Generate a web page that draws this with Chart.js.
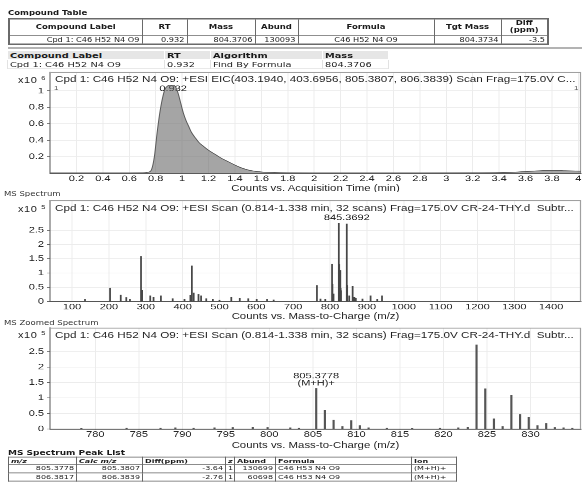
<!DOCTYPE html>
<html>
<head>
<meta charset="utf-8">
<title>Compound report</title>
<script src="https://cdn.jsdelivr.net/npm/chart.js@4.4.1/dist/chart.umd.min.js"></script>
<style>
  html, body { margin: 0; padding: 0; background: #fff; overflow: hidden; }
  /* the report is laid out at 4/3 height and squashed, like the scanned page */
  #page {
    position: absolute; left: 0; top: 0;
    width: 582px; height: 643px;
    transform: scaleY(0.75); transform-origin: 0 0;
    font-family: "DejaVu Sans", sans-serif; color: #1a1a1a; overflow: hidden;
  }
  .t { position: absolute; white-space: nowrap; line-height: 1; z-index: 2; }
  .head { left: 8px; font-weight: bold; font-size: 8.5px; }
  .section { left: 4px; font-size: 8.5px; color: #333; }
  .chart-title { left: 55px; font: 11.7px "Liberation Sans", sans-serif; color: #1e1e1e; }
  .axis-title { left: 50px; width: 531px; text-align: center; font: 11.4px "Liberation Sans", sans-serif; color: #1e1e1e; }
  .ylab { left: 4px; width: 42px; text-align: right; font: 11px "Liberation Sans", sans-serif; letter-spacing: 0.6px; color: #1e1e1e; }
  .ylab sup { font-size: 7.5px; vertical-align: 3px; }
  .mark { font: 8px "Liberation Sans", sans-serif; color: #555; }
  canvas { position: absolute; left: 0; z-index: 1; }
  .rule { position: absolute; left: 8px; width: 574px; top: 62.5px; height: 2.5px; background: #9a9a9a; }
  table { position: absolute; border-collapse: collapse; table-layout: fixed; z-index: 2; }
  th, td { padding: 0 2px; white-space: nowrap; overflow: hidden; }

  #cpdTable { left: 8px; top: 24px; width: 539px; border: 2px solid #6a6a6a; font-size: 8.2px; }
  #cpdTable th { height: 20.5px; font-size: 8.5px; line-height: 9.8px; border: 1.5px solid #6a6a6a; text-align: center; }
  #cpdTable td { height: 10px; line-height: 10px; border: 1.5px solid #6a6a6a; text-align: right; }
  #cpdTable td.c { text-align: center; }

  #algTable { left: 7px; top: 67px; width: 381px; font-size: 9.8px; }
  #algTable th { height: 11px; line-height: 11px; background: #e6e6e6; border: 1px solid #fff; text-align: left; }
  #algTable td { height: 11px; line-height: 11px; border: 1px solid #e2e2e2; text-align: left; }

  #peakTable { left: 8px; top: 609.3px; width: 448px; font-size: 8px; border: 1.5px solid #555; }
  #peakTable th { height: 9px; line-height: 9px; border: 1px solid #666; text-align: left; }
  #peakTable th i { font-style: italic; }
  #peakTable td { height: 10px; line-height: 10px; border: 1px solid #666; text-align: right; }
  #peakTable td.l { text-align: left; }
  #peakTable td.c { text-align: center; }
</style>
</head>
<body>
<div id="page">
  <div class="t head" style="top:12.5px">Compound Table</div>
  <table id="cpdTable">
    <colgroup><col style="width:133px"><col style="width:45px"><col style="width:68px"><col style="width:43px"><col style="width:136px"><col style="width:67px"><col style="width:47px"></colgroup>
    <tr><th>Compound Label</th><th>RT</th><th>Mass</th><th>Abund</th><th>Formula</th><th>Tgt Mass</th><th>Diff<br>(ppm)</th></tr>
    <tr><td>Cpd 1: C46 H52 N4 O9</td><td>0.932</td><td>804.3706</td><td>130093</td><td class="c">C46 H52 N4 O9</td><td>804.3734</td><td>-3.5</td></tr>
  </table>
  <div class="rule"></div>
  <table id="algTable">
    <colgroup><col style="width:157px"><col style="width:46px"><col style="width:112px"><col style="width:66px"></colgroup>
    <tr><th>Compound Label</th><th>RT</th><th>Algorithm</th><th>Mass</th></tr>
    <tr><td>Cpd 1: C46 H52 N4 O9</td><td>0.932</td><td>Find By Formula</td><td>804.3706</td></tr>
  </table>

  <canvas id="eic" width="582" height="173" style="top:88px"></canvas>
  <div class="t chart-title" style="top:98px">Cpd 1: C46 H52 N4 O9: +ESI EIC(403.1940, 403.6956, 805.3807, 806.3839) Scan Frag=175.0V C...</div>
  <div class="t ylab" style="top:99.5px">x10 <sup>6</sup></div>
  <div class="t mark" style="left:54px;top:113px">1</div>
  <div class="t mark" style="left:574px;top:113px">1</div>
  <div class="t axis-title" style="top:243.5px">Counts vs. Acquisition Time (min)</div>

  <div class="t section" style="top:253.5px">MS Spectrum</div>
  <canvas id="ms" width="582" height="173" style="top:258.7px"></canvas>
  <div class="t chart-title" style="top:270px">Cpd 1: C46 H52 N4 O9: +ESI Scan (0.814-1.338 min, 32 scans) Frag=175.0V CR-24-THY.d&nbsp; Subtr...</div>
  <div class="t ylab" style="top:271.5px">x10 <sup>5</sup></div>
  <div class="t axis-title" style="top:414.5px">Counts vs. Mass-to-Charge (m/z)</div>

  <div class="t section" style="top:425.5px">MS Zoomed Spectrum</div>
  <canvas id="zoom" width="582" height="173" style="top:429.3px"></canvas>
  <div class="t chart-title" style="top:439.5px">Cpd 1: C46 H52 N4 O9: +ESI Scan (0.814-1.338 min, 32 scans) Frag=175.0V CR-24-THY.d&nbsp; Subtr...</div>
  <div class="t ylab" style="top:440px">x10 <sup>5</sup></div>
  <div class="t axis-title" style="top:586.5px">Counts vs. Mass-to-Charge (m/z)</div>

  <div class="t head" style="top:598.5px;font-size:9px">MS Spectrum Peak List</div>
  <table id="peakTable">
    <colgroup><col style="width:68px"><col style="width:66px"><col style="width:83px"><col style="width:9px"><col style="width:41px"><col style="width:136px"><col style="width:45px"></colgroup>
    <tr><th><i>m/z</i></th><th><i>Calc m/z</i></th><th>Diff(ppm)</th><th><i>z</i></th><th>Abund</th><th>Formula</th><th>Ion</th></tr>
    <tr><td>805.3778</td><td>805.3807</td><td>-3.64</td><td class="c">1</td><td>130699</td><td class="l">C46 H53 N4 O9</td><td class="l">(M+H)+</td></tr>
    <tr><td>806.3817</td><td>806.3839</td><td>-2.76</td><td class="c">1</td><td>60698</td><td class="l">C46 H53 N4 O9</td><td class="l">(M+H)+</td></tr>
  </table>
</div>

<script>
// EIC trace, counts in units of 10^6
const eicTime = [0, 0.2, 0.4, 0.6, 0.7, 0.75, 0.77, 0.79, 0.81, 0.83, 0.85, 0.87, 0.89, 0.91, 0.93, 0.95, 0.97, 0.99, 1.01, 1.03,
                 1.05, 1.07, 1.1, 1.13, 1.16, 1.2, 1.25, 1.3, 1.35, 1.4, 1.45, 1.5, 1.55, 1.6, 1.7, 1.8, 2, 2.4, 2.8, 3.2,
                 3.4, 3.5, 3.6, 3.7, 3.8, 3.9, 4.02];
const eicCounts = [0.004, 0.004, 0.004, 0.005, 0.006, 0.015, 0.05, 0.2, 0.48, 0.72, 0.9, 1.02, 1.06, 1.07, 1.07, 1.05, 0.97, 0.85, 0.73, 0.64,
                   0.57, 0.5, 0.43, 0.37, 0.33, 0.28, 0.23, 0.18, 0.14, 0.1, 0.065, 0.04, 0.025, 0.016, 0.009, 0.006, 0.005, 0.005, 0.005, 0.006,
                   0.008, 0.012, 0.022, 0.03, 0.034, 0.031, 0.026];
const eicXTicks = [0.2, 0.4, 0.6, 0.8, 1, 1.2, 1.4, 1.6, 1.8, 2, 2.2, 2.4, 2.6, 2.8, 3, 3.2, 3.4, 3.6, 3.8, 4];
const eicYTicks = [0.2, 0.4, 0.6, 0.8, 1];

// full MS spectrum, abundance in units of 10^5
const msMz = [135, 203, 232, 247, 257, 287, 290, 312, 321, 341, 373, 405, 421, 425, 430, 443, 450, 464, 482, 500,
              532, 555, 578, 601, 629, 647, 764.4, 774, 787, 805.4, 806.4, 809.4, 823.8, 824.8, 827.8, 828.8, 829.8, 845.4, 846.4, 852,
              861.3, 866, 870, 888, 910, 928, 941];
const msAbund = [0.07, 0.47, 0.23, 0.14, 0.07, 1.58, 0.39, 0.2, 0.15, 0.2, 0.1, 0.07, 0.22, 1.25, 0.3, 0.25, 0.2, 0.1, 0.07, 0.05,
                 0.15, 0.12, 0.1, 0.07, 0.07, 0.06, 0.56, 0.09, 0.07, 1.31, 0.61, 0.27, 2.75, 1.3, 1.09, 0.47, 0.38, 2.72, 0.56, 0.2,
                 0.54, 0.15, 0.12, 0.09, 0.2, 0.07, 0.2];
const msXTicks = [100, 200, 300, 400, 500, 600, 700, 800, 900, 1000, 1100, 1200, 1300, 1400];

// zoomed MS spectrum, abundance in units of 10^5
const zoomMz = [778.4, 783.6, 787.5, 789.2, 791.3, 793.7, 795.8, 798.1, 799.8, 802.4, 803.4, 805.38, 806.38, 807.38, 808.39, 809.4, 810.4, 811.4,
                813.5, 816.4, 819.6, 821.7, 822.8, 823.8, 824.8, 825.8, 826.8, 827.8, 828.8, 829.8, 830.8, 831.8, 832.8, 833.8, 834.8];
const zoomAbund = [0.02, 0.03, 0.03, 0.04, 0.03, 0.04, 0.05, 0.06, 0.05, 0.04, 0.03, 1.31, 0.61, 0.29, 0.08, 0.27, 0.11, 0.04,
                   0.03, 0.02, 0.03, 0.04, 0.06, 2.72, 1.3, 0.33, 0.08, 1.09, 0.47, 0.38, 0.11, 0.18, 0.05, 0.04, 0.03];
const zoomXTicks = [780, 785, 790, 795, 800, 805, 810, 815, 820, 825, 830];
const countYTicks = [0, 0.5, 1, 1.5, 2, 2.5];

const tickFont = { family: 'Liberation Sans', size: 11 };

function xAxis(min, max, values) {
    return {
        type: 'linear', min: min, max: max, offset: false,
        afterBuildTicks: (s) => { s.ticks = values.map(v => ({ value: v })); },
        afterFit: (s) => { s.height = 30; s.paddingLeft = 0; s.paddingRight = 0; },
        ticks: { autoSkip: false, maxRotation: 0, padding: 0, color: '#222', font: tickFont, callback: v => String(v) },
        grid: { color: '#ececec', tickColor: '#777', tickLength: 1, offset: false },
        border: { color: '#555', width: 1.4 }
    };
}

function yAxis(max, values) {
    return {
        min: 0, max: max,
        afterBuildTicks: (s) => { s.ticks = values.map(v => ({ value: v })); },
        afterFit: (s) => { s.width = 50; s.paddingTop = 0; s.paddingBottom = 0; },
        ticks: { padding: 3, color: '#222', font: tickFont, callback: v => String(v) },
        grid: { color: '#ececec', tickColor: '#666', tickLength: 3 },
        border: { color: '#555', width: 1 }
    };
}

// light top and right edge of the plot box
const framePlugin = {
    id: 'frame',
    beforeDatasetsDraw(chart) {
        const { ctx, chartArea: a } = chart;
        ctx.save();
        ctx.strokeStyle = '#a0a0a0';
        ctx.lineWidth = 1.2;
        ctx.beginPath();
        ctx.moveTo(a.left, a.top + 0.5);
        ctx.lineTo(a.right - 0.5, a.top + 0.5);
        ctx.lineTo(a.right - 0.5, a.bottom);
        ctx.stroke();
        ctx.restore();
    }
};

function drawPeakLabels(chart, opts) {
    const { ctx, scales } = chart;
    ctx.save();
    ctx.font = '11px "Liberation Sans", sans-serif';
    ctx.fillStyle = '#1e1e1e';
    ctx.textAlign = 'center';
    ctx.textBaseline = 'alphabetic';
    opts.items.forEach(it => {
        const px = scales.x.getPixelForValue(it.x);
        const py = scales.y.getPixelForValue(it.y) + opts.dy;
        const lines = it.lines.slice().reverse();
        lines.forEach((line, k) => ctx.fillText(line, px, py - k * 9.5));
    });
    ctx.restore();
}

const peakLabelPlugin = {
    id: 'peakLabels',
    beforeDatasetsDraw(chart, args, opts) { if (opts.under) drawPeakLabels(chart, opts); },
    afterDatasetsDraw(chart, args, opts) { if (!opts.under) drawPeakLabels(chart, opts); }
};

const common = {
    responsive: false,
    animation: false,
    devicePixelRatio: 2,
    layout: { padding: { top: 8, right: 1, left: 0, bottom: 0 } },
    events: []
};

new Chart(document.getElementById('eic'), {
    type: 'line',
    data: {
        datasets: [{
            data: eicTime.map((t, i) => ({ x: t, y: eicCounts[i] })),
            borderColor: '#5a5a5a',
            borderWidth: 1,
            backgroundColor: 'rgba(105,105,105,0.6)',
            fill: 'origin',
            pointRadius: 0,
            cubicInterpolationMode: 'monotone'
        }]
    },
    options: {
        ...common,
        plugins: {
            legend: { display: false }, tooltip: { enabled: false },
            peakLabels: { under: true, dy: 8, items: [{ x: 0.932, y: 1.07, lines: ['0.932'] }] }
        },
        scales: { x: xAxis(0, 4.02, eicXTicks), y: yAxis(1.23, eicYTicks) }
    },
    plugins: [framePlugin, peakLabelPlugin]
});

new Chart(document.getElementById('ms'), {
    type: 'bar',
    data: {
        datasets: [{
            data: msMz.map((m, i) => ({ x: m, y: msAbund[i] })),
            backgroundColor: '#474747',
            barThickness: 1.1
        }]
    },
    options: {
        ...common,
        plugins: {
            legend: { display: false }, tooltip: { enabled: false },
            peakLabels: { under: false, dy: -5, items: [{ x: 845.3692, y: 2.72, lines: ['845.3692'] }] }
        },
        scales: { x: xAxis(40, 1481, msXTicks), y: yAxis(3.55, countYTicks) }
    },
    plugins: [framePlugin, peakLabelPlugin]
});

new Chart(document.getElementById('zoom'), {
    type: 'bar',
    data: {
        datasets: [{
            data: zoomMz.map((m, i) => ({ x: m, y: zoomAbund[i] })),
            backgroundColor: '#555555',
            barThickness: 1.5
        }]
    },
    options: {
        ...common,
        plugins: {
            legend: { display: false }, tooltip: { enabled: false },
            peakLabels: { under: false, dy: -4, items: [{ x: 805.3778, y: 1.31, lines: ['805.3778', '(M+H)+'] }] }
        },
        scales: { x: xAxis(774.8, 835.8, zoomXTicks), y: yAxis(3.27, countYTicks) }
    },
    plugins: [framePlugin, peakLabelPlugin]
});
</script>
</body>
</html>
